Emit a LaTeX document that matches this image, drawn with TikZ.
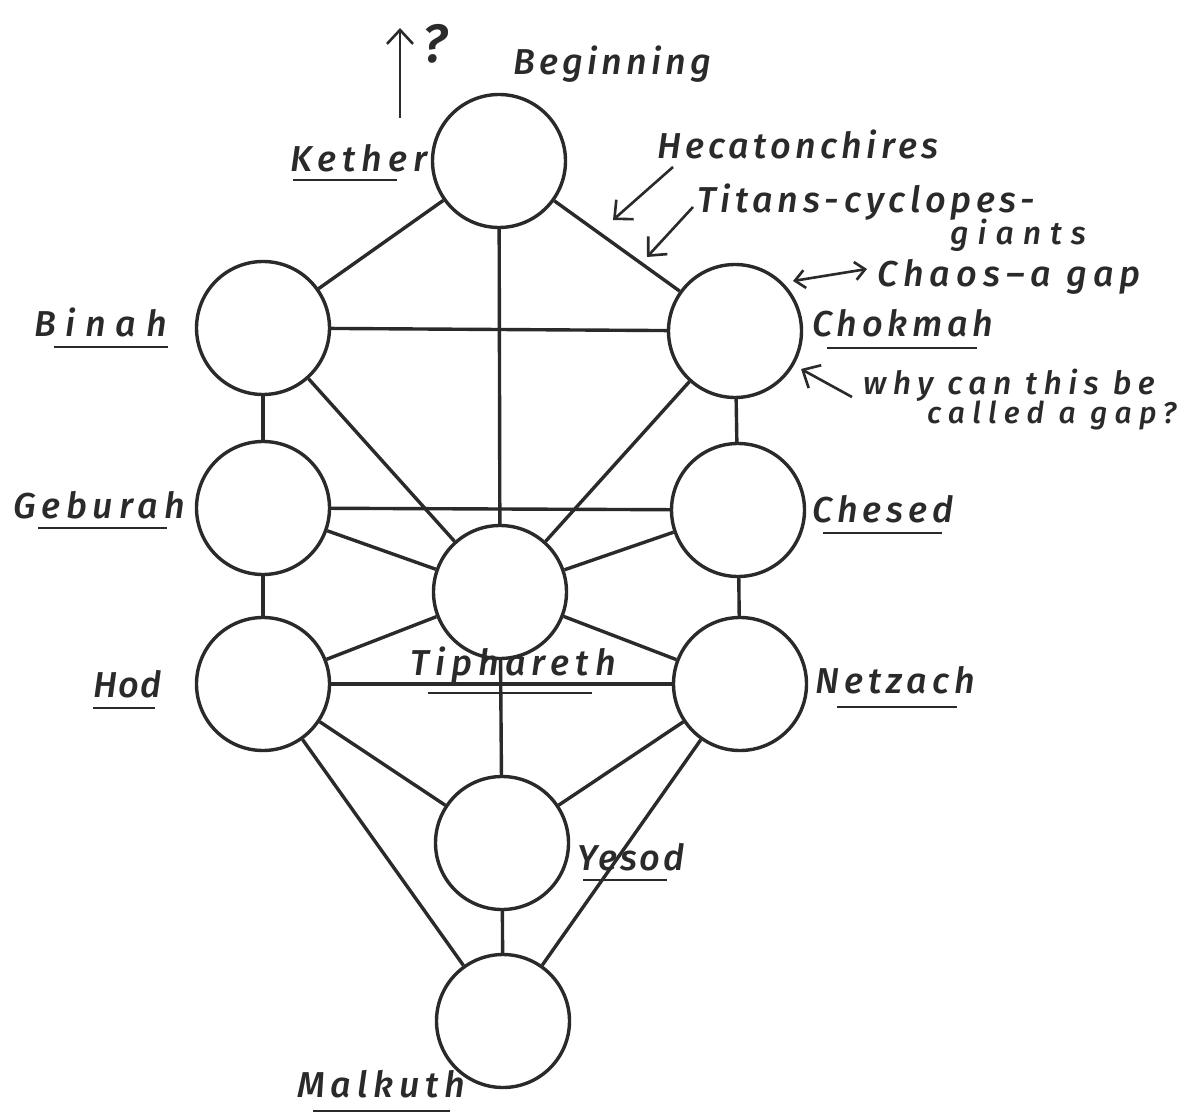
\documentclass[tikz,border=0pt]{standalone}
\usepackage{fontspec}
\newfontfamily\hand{Fira Sans}[ItalicFont={Fira Sans Medium Italic}]
\newcommand\handsz[2]{\hand\itshape\fontsize{#1}{#1}\selectfont\addfontfeature{LetterSpace=#2}}
\usetikzlibrary{arrows.meta,calc}
\definecolor{ink}{HTML}{2A2A2A}
\begin{document}
\begin{tikzpicture}[x=1pt,y=-1pt,
  sephira/.style={circle,draw=ink,line width=3.4pt,minimum size=133pt,inner sep=0pt},
  pathline/.style={draw=ink,line width=3.4pt},
  lbl/.style={text=ink,inner sep=0pt,anchor=base west},
  ul/.style={draw=ink,line width=2.6pt},
  note/.style={draw=ink,line width=2.6pt,-{Straight Barb[length=14pt,width=26pt]}},
  dnote/.style={draw=ink,line width=2.6pt,{Straight Barb[length=10pt,width=18pt]}-{Straight Barb[length=10pt,width=18pt]}}]
\useasboundingbox[fill=white] (0,0) rectangle (1202,1115);

% sephiroth
\node[sephira] (kether)    at (499,161) {};
\node[sephira] (binah)     at (263,328) {};
\node[sephira] (chokmah)   at (735,331) {};
\node[sephira] (geburah)   at (263,508) {};
\node[sephira] (chesed)    at (738,510) {};
\node[sephira] (tiphareth) at (500,592) {};
\node[sephira] (hod)       at (263,684) {};
\node[sephira] (netzach)   at (740,684) {};
\node[sephira] (yesod)     at (502,843) {};
\node[sephira] (malkuth)   at (503,1021) {};

% paths
\foreach \a/\b in {kether/binah,kether/chokmah,kether/tiphareth,
  binah/chokmah,binah/geburah,binah/tiphareth,
  chokmah/chesed,chokmah/tiphareth,
  geburah/chesed,geburah/tiphareth,geburah/hod,
  chesed/tiphareth,chesed/netzach,
  tiphareth/hod,tiphareth/netzach,tiphareth/yesod,
  hod/netzach,hod/yesod,hod/malkuth,
  netzach/yesod,netzach/malkuth,yesod/malkuth}
  \draw[pathline] (\a) -- (\b);

% labels
\node[lbl,font=\handsz{36}{12}] (lbeg) at (513,75) {Beginning};
\node[lbl,font=\handsz{36}{17}] (lket) at (290,172) {Kether};
\node[lbl,font=\handsz{36}{27}] (lbin) at (34,337) {Binah};
\node[lbl,font=\handsz{36}{16}] (lgeb) at (13,518) {Geburah};
\node[lbl,font=\handsz{36}{3}]  (lhod) at (93,697) {Hod};
\node[lbl,font=\handsz{36}{13}] (lcho) at (812,337) {Chokmah};
\node[lbl,font=\handsz{36}{14}] (lche) at (812,522) {Chesed};
\node[lbl,font=\handsz{36}{14}] (lnet) at (815,693) {Netzach};
\node[lbl,font=\handsz{36}{17}] (ltip) at (410,675) {Tiphareth};
\node[lbl,font=\handsz{36}{8}]  (lyes) at (577,870) {Yesod};
\node[lbl,font=\handsz{36}{16}] (lmal) at (297,1097) {Malkuth};
\node[lbl,font=\handsz{54}{0}]  (lq)   at (422,63) {?};
\node[lbl,font=\handsz{36}{12}] (lhec) at (657,159) {Hecatonchires};
\node[lbl,font=\handsz{36}{13}] (ltit) at (697,213) {Titans-\,cyclopes-};
\node[lbl,font=\handsz{32}{28}] (lgia) at (950,245) {giants};
\node[lbl,font=\handsz{36}{17}] (lcha) at (877,287) {Chaos\,–\,a gap};
\node[lbl,font=\handsz{32}{20}] (lwhy) at (863,394) {why can this be};
\node[lbl,font=\handsz{30}{24}] (lcal) at (927,423) {called a gap?};

% underlines
\foreach \n/\l/\len/\d in {lket/3/104/8,lbin/20/114/10,lgeb/25/129/10,lhod/0/62/11,
  lcho/15/150/11,lche/11/119/11,lnet/22/120/14,ltip/18/164/18,lyes/6/84/10,lmal/16/137/14}
  \draw[ul] ($(\n.base west)+(\l,\d)$) -- ++(\len,0);

% annotation arrows
\coordinate (qtail) at (400,118);
\coordinate (qhead) at (400,28);
\draw[note] (qtail) -- (qhead);
\coordinate (hectail) at (673,167);
\coordinate (hechead) at (613,220);
\draw[note] (hectail) -- (hechead);
\coordinate (tittail) at (693,207);
\coordinate (tithead) at (647,257);
\draw[note] (tittail) -- (tithead);
\coordinate (chaL) at (793,281);
\coordinate (chaR) at (867,269);
\draw[dnote] (chaL) -- (chaR);
\coordinate (whyhead) at (801,369);
\coordinate (whytail) at (852,397);
\draw[note] (whytail) -- (whyhead);
\end{tikzpicture}
\end{document}
